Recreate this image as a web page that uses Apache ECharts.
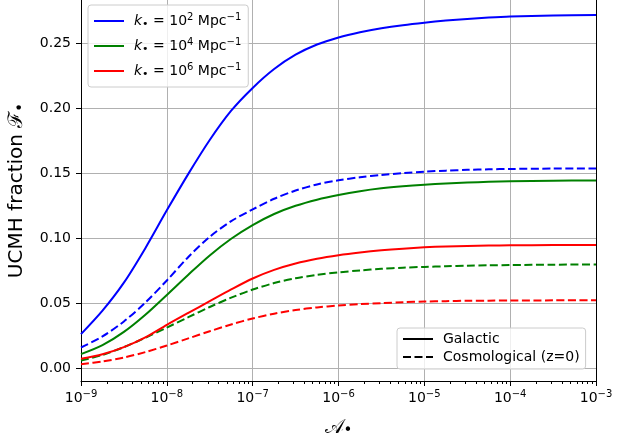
<!DOCTYPE html>
<html>
<head>
<meta charset="utf-8">
<script src="https://cdn.jsdelivr.net/npm/echarts@6/dist/echarts.min.js"></script>
<style>
  html, body { margin: 0; padding: 0; background: #fff; }
  #chart { width: 634px; height: 438px; }
</style>
</head>
<body>
<div id="chart"></div>
<script>
// amplitude A• (x axis, log), quarter decades
const amp = [1e-9, 1.78e-9, 3.16e-9, 5.62e-9, 1e-8, 1.78e-8, 3.16e-8, 5.62e-8, 1e-7, 1.78e-7, 3.16e-7, 5.62e-7,
             1e-6, 1.78e-6, 3.16e-6, 5.62e-6, 1e-5, 1.78e-5, 3.16e-5, 5.62e-5, 1e-4, 3.16e-4, 1e-3];

// galactic (solid)
const galK2 = [0.0265, 0.0445, 0.066, 0.0925, 0.1215, 0.1495, 0.1755, 0.198, 0.2155, 0.230, 0.241, 0.2488,
               0.2542, 0.2582, 0.2613, 0.2637, 0.2656, 0.2672, 0.2685, 0.2696, 0.2704, 0.2711, 0.2715];
const galK4 = [0.0111, 0.018, 0.0282, 0.0414, 0.0566, 0.0721, 0.0869, 0.0997, 0.1102, 0.1187, 0.125, 0.1297,
               0.1333, 0.1362, 0.1384, 0.140, 0.1412, 0.1421, 0.1428, 0.1434, 0.1438, 0.1442, 0.1445];
const galK6 = [0.0075, 0.011, 0.0165, 0.024, 0.0336, 0.0428, 0.0518, 0.0608, 0.0692, 0.0758, 0.0807, 0.0843,
               0.087, 0.0891, 0.0908, 0.0921, 0.0931, 0.0938, 0.0942, 0.0945, 0.0947, 0.0949, 0.095];

// cosmological z=0 (dashed)
const cosK2 = [0.0162, 0.0247, 0.0362, 0.0507, 0.0677, 0.0857, 0.1012, 0.1132, 0.1222, 0.1304, 0.1367, 0.1414,
               0.1446, 0.1469, 0.1487, 0.1501, 0.1512, 0.152, 0.1526, 0.153, 0.1533, 0.1536, 0.1537];
const cosK4 = [0.0062, 0.0105, 0.0165, 0.0237, 0.0315, 0.0395, 0.0473, 0.0545, 0.0607, 0.0657, 0.0694, 0.072,
               0.0739, 0.0754, 0.0766, 0.0775, 0.0781, 0.0786, 0.079, 0.0793, 0.0795, 0.0798, 0.080];
const cosK6 = [0.0034, 0.0055, 0.0085, 0.0127, 0.0177, 0.0232, 0.0287, 0.0339, 0.0385, 0.0422, 0.045, 0.047,
               0.0484, 0.0495, 0.0503, 0.051, 0.0515, 0.0518, 0.0521, 0.0522, 0.0523, 0.0524, 0.0525];

const kExps = ['2', '4', '6'];
const yTicks = [0, 0.05, 0.10, 0.15, 0.20, 0.25];

// minor ticks 2..9 per decade
const xMinor = [];
for (let e = -9; e < -3; e++) {
  for (let m = 2; m <= 9; m++) xMinor.push(m * Math.pow(10, e));
}

const FONT = 'DejaVu Sans';
const chart = echarts.init(document.getElementById('chart'));

const makeLine = (name, ys, color, dashed) => ({
  name: name,
  type: 'line',
  data: amp.map((a, i) => [a, ys[i]]),
  symbol: 'none',
  smooth: 0.3,
  color: color,
  itemStyle: { opacity: 0 },
  lineStyle: { width: 2, type: dashed ? [8, 3.5] : 'solid' },
  emphasis: { disabled: true },
  animation: false
});

const supRich = {
  b: { fontFamily: FONT, fontSize: 14, color: '#000', lineHeight: 18 },
  e: { fontFamily: FONT, fontSize: 10, color: '#000', lineHeight: 10, verticalAlign: 'top' }
};

const legendRich = {
  i: { fontFamily: FONT, fontSize: 14, fontStyle: 'italic', color: '#000', lineHeight: 18, padding: [0, 0, 0, 5] },
  s: { fontFamily: FONT, fontSize: 11, color: '#000', lineHeight: 11, verticalAlign: 'bottom' },
  n: { fontFamily: FONT, fontSize: 14, color: '#000', lineHeight: 18 },
  e: { fontFamily: FONT, fontSize: 10, color: '#000', lineHeight: 10, verticalAlign: 'top' },
  p: { fontFamily: FONT, fontSize: 14, color: '#000', lineHeight: 18, padding: [0, 0, 0, 5] }
};

const option = {
  animation: false,
  backgroundColor: '#fff',
  grid: { left: 81, right: 38, top: 0, bottom: 57, outerBoundsMode: 'none', containLabel: false },
  xAxis: [
    {
      type: 'log',
      logBase: 10,
      min: 1e-9,
      max: 1e-3,
      name: '{f|𝒜}{s|•}',
      nameLocation: 'middle',
      nameGap: 36,
      nameTextStyle: {
        rich: {
          f: { fontFamily: 'DejaVu Serif', fontSize: 20, color: '#000', lineHeight: 22 },
          s: { fontFamily: FONT, fontSize: 15, color: '#000', lineHeight: 15, verticalAlign: 'bottom' }
        }
      },
      axisLine: { show: true, onZero: false, lineStyle: { color: '#000', width: 1 } },
      axisTick: { show: true, length: 5, lineStyle: { color: '#000', width: 1 } },
      axisLabel: {
        margin: 8,
        formatter: v => {
          const e = Math.round(Math.log10(v));
          return '{b|10}{e|' + (e < 0 ? '\u2212' : '') + Math.abs(e) + '}';
        },
        rich: supRich
      },
      splitLine: { show: true, lineStyle: { color: '#b0b0b0', width: 1 } },
      minorTick: { show: false }
    },
    {
      type: 'log',
      logBase: 10,
      min: 1e-9,
      max: 1e-3,
      position: 'bottom',
      axisLine: { show: false, onZero: false },
      axisTick: { show: true, length: 3, customValues: xMinor, lineStyle: { color: '#000', width: 1 } },
      axisLabel: { show: false },
      splitLine: { show: false }
    }
  ],
  yAxis: [
    {
      type: 'value',
      min: -0.0095,
      max: 0.283,
      name: '{t|UCMH fraction }{f|ℱ}{s|•}',
      nameLocation: 'middle',
      nameGap: 49,
      nameRotate: 90,
      nameTextStyle: {
        rich: {
          t: { fontFamily: FONT, fontSize: 20, color: '#000', lineHeight: 24 },
          f: { fontFamily: 'DejaVu Serif', fontSize: 20, color: '#000', lineHeight: 24 },
          s: { fontFamily: FONT, fontSize: 15, color: '#000', lineHeight: 15, verticalAlign: 'bottom' }
        }
      },
      axisLine: { show: true, onZero: false, lineStyle: { color: '#000', width: 1 } },
      axisTick: { show: true, length: 5, customValues: yTicks, lineStyle: { color: '#000', width: 1 } },
      axisLabel: {
        margin: 10,
        customValues: yTicks,
        fontFamily: FONT,
        fontSize: 14,
        color: '#000',
        formatter: v => v.toFixed(2)
      },
      splitLine: { show: true, lineStyle: { color: '#b0b0b0', width: 1 } }
    },
    {
      type: 'value',
      min: -0.0095,
      max: 0.283,
      position: 'right',
      axisLine: { show: true, onZero: false, lineStyle: { color: '#000', width: 1 } },
      axisTick: { show: false },
      axisLabel: { show: false },
      splitLine: { show: false }
    }
  ],
  legend: [
    {
      data: kExps.map(k => 'k' + k),
      orient: 'vertical',
      left: 88,
      top: 5,
      itemWidth: 30,
      itemHeight: 14,
      itemGap: 7,
      padding: [7, 7, 7, 5],
      backgroundColor: 'rgba(255,255,255,0.8)',
      borderColor: '#cccccc',
      borderWidth: 1,
      borderRadius: 3,
      selectedMode: false,
      formatter: name => '{i|k}{s|•}{n| = 10}{e|' + name.slice(1) + '}{n| Mpc}{e|\u22121}',
      textStyle: { fontFamily: FONT, fontSize: 14, color: '#000', rich: legendRich }
    },
    {
      data: ['Galactic', 'Cosmological (z=0)'],
      orient: 'vertical',
      left: 397,
      top: 328,
      itemWidth: 30,
      itemHeight: 14,
      itemGap: 4,
      padding: [4, 6, 5, 5],
      backgroundColor: 'rgba(255,255,255,0.8)',
      borderColor: '#cccccc',
      borderWidth: 1,
      borderRadius: 3,
      selectedMode: false,
      formatter: name => '{p|' + name + '}',
      textStyle: { fontFamily: FONT, fontSize: 14, color: '#000', rich: legendRich }
    }
  ],
  series: [
    makeLine('k2', galK2, '#0000ff', false),
    makeLine('k2c', cosK2, '#0000ff', true),
    makeLine('k4', galK4, '#008000', false),
    makeLine('k4c', cosK4, '#008000', true),
    makeLine('k6', galK6, '#ff0000', false),
    makeLine('k6c', cosK6, '#ff0000', true),
    { name: 'Galactic', type: 'line', data: [], symbol: 'none', color: '#000', itemStyle: { opacity: 0 }, lineStyle: { width: 2, type: 'solid' } },
    { name: 'Cosmological (z=0)', type: 'line', data: [], symbol: 'none', color: '#000', itemStyle: { opacity: 0 }, lineStyle: { width: 2, type: [8, 3.5] } }
  ]
};

chart.setOption(option);
</script>
</body>
</html>
